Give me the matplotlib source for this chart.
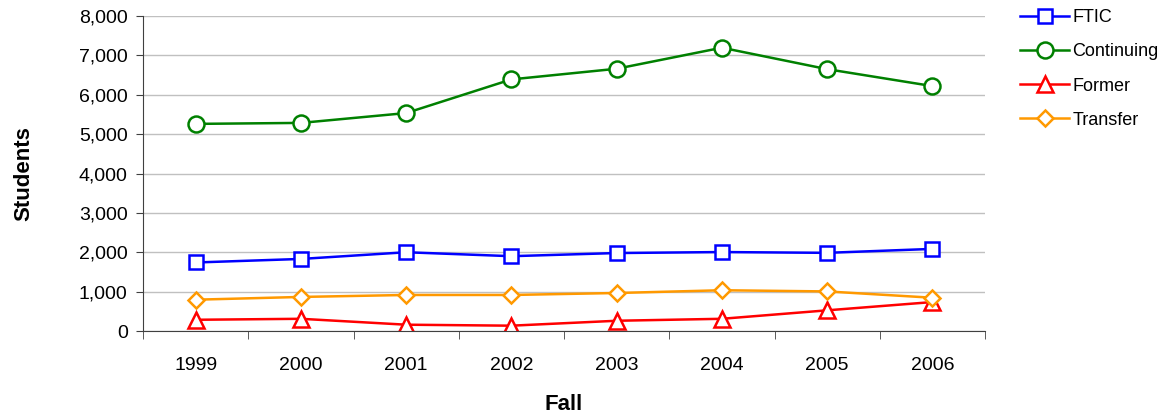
import numpy as np
import matplotlib
matplotlib.use("Agg")
import matplotlib.pyplot as plt
from matplotlib.ticker import FuncFormatter

plt.rcParams['font.family'] = ['Liberation Sans', 'DejaVu Sans']

years = ['1999', '2000', '2001', '2002', '2003', '2004', '2005', '2006']
ftic = [1740, 1830, 2000, 1900, 1980, 2005, 1985, 2085]
continuing = [5260, 5285, 5535, 6390, 6660, 7195, 6650, 6220]
former = [285, 310, 160, 135, 260, 310, 525, 735]
transfer = [795, 865, 915, 915, 965, 1035, 1005, 845]

fig = plt.figure(figsize=(11.73, 4.13), dpi=100)
ax = fig.add_axes([143 / 1173, 1 - 331 / 413, (985 - 143) / 1173, (331 - 16) / 413])

x = np.arange(len(years))
lw = 1.8
ax.plot(x, ftic, color='#0000FF', lw=lw, marker='s', ms=10.5, mfc='white', mec='#0000FF', mew=1.8, label='FTIC')
ax.plot(x, continuing, color='#008000', lw=lw, marker='o', ms=11.5, mfc='white', mec='#008000', mew=1.8, label='Continuing')
ax.plot(x, former, color='#FF0000', lw=lw, marker='^', ms=11.5, mfc='white', mec='#FF0000', mew=1.8, label='Former')
ax.plot(x, transfer, color='#FF9900', lw=lw, marker='D', ms=8.5, mfc='white', mec='#FF9900', mew=1.8, label='Transfer')

ax.set_xlim(-0.5, len(years) - 0.5)
ax.set_ylim(0, 8000)
ax.set_yticks(np.arange(0, 8001, 1000))
ax.yaxis.set_major_formatter(FuncFormatter(lambda v, p: f'{int(v):,}'))
ax.yaxis.grid(True, color='#C0C0C0', lw=1)
ax.set_axisbelow(True)

ax.set_xticks(x)
ax.set_xticklabels(years)
ax.set_xticks(np.arange(-0.5, len(years)), minor=True)
ax.tick_params(axis='x', which='major', length=0, pad=19, labelsize=14)
ax.tick_params(axis='x', which='minor', length=6, direction='out', color='#404040')
ax.tick_params(axis='y', length=5, direction='out', color='#404040', labelsize=14, pad=6)

for s in ['top', 'right']:
    ax.spines[s].set_visible(False)
for s in ['left', 'bottom']:
    ax.spines[s].set_color('#404040')

ax.set_xlabel('Fall', fontsize=16, fontweight='bold', labelpad=14)
ax.set_ylabel('Students', fontsize=16, fontweight='bold', labelpad=32)

fig.legend(loc='upper left', bbox_to_anchor=(1013 / 1173, 0.995), borderaxespad=0, frameon=False,
           fontsize=13, handlelength=2.7, labelspacing=0.95, handletextpad=0.2)

fig.savefig('out.png', dpi=100)
